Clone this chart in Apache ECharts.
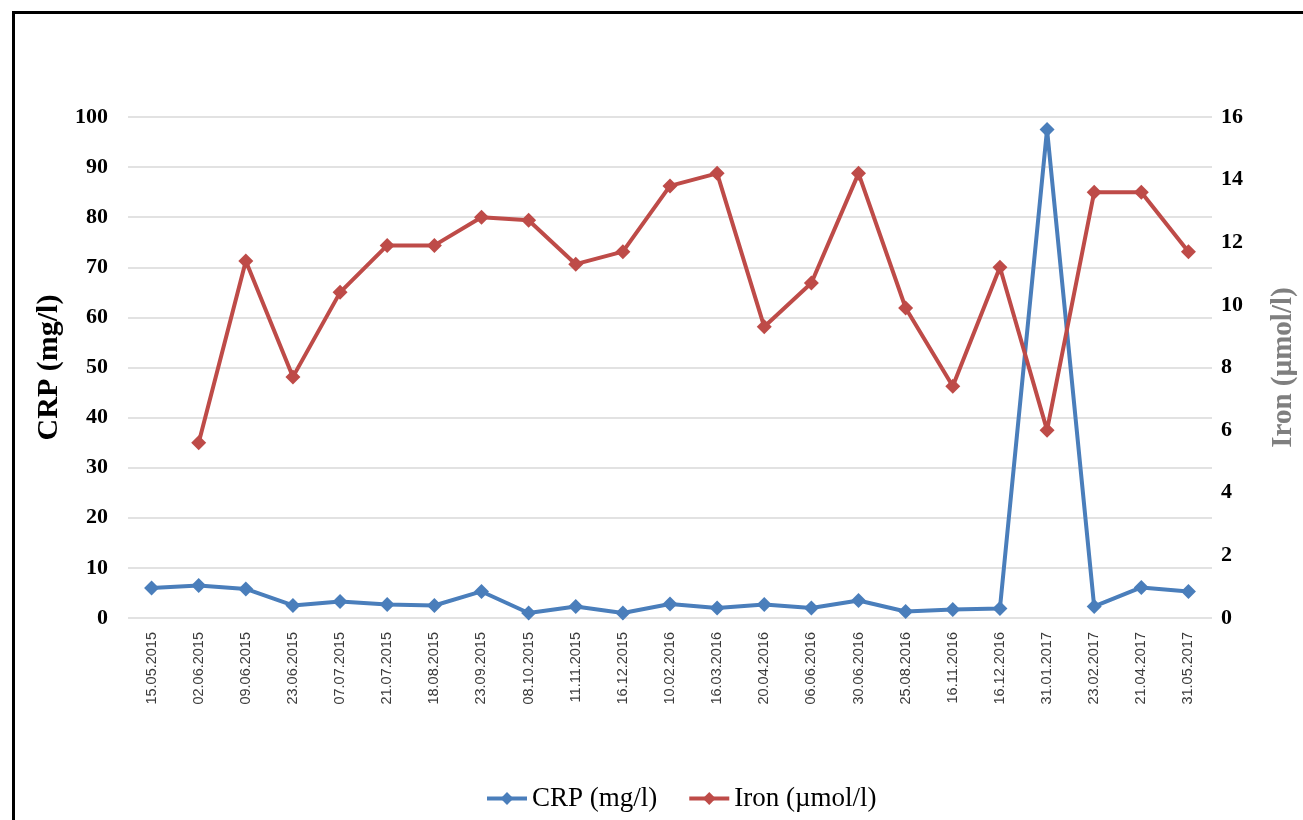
<!DOCTYPE html>
<html>
<head>
<meta charset="utf-8">
<title>CRP and Iron</title>
<script src="https://cdn.jsdelivr.net/npm/echarts@6/dist/echarts.min.js"></script>
<style>
  html, body { margin: 0; padding: 0; background: #ffffff; }
  #chart { width: 1303px; height: 820px; }
</style>
</head>
<body>
<div id="chart"></div>
<script>
// Sampling dates
const dates = [
  '15.05.2015', '02.06.2015', '09.06.2015', '23.06.2015', '07.07.2015',
  '21.07.2015', '18.08.2015', '23.09.2015', '08.10.2015', '11.11.2015',
  '16.12.2015', '10.02.2016', '16.03.2016', '20.04.2016', '06.06.2016',
  '30.06.2016', '25.08.2016', '16.11.2016', '16.12.2016', '31.01.2017',
  '23.02.2017', '21.04.2017', '31.05.2017'
];

// CRP (mg/l), left axis
const crp = [
  6.0, 6.5, 5.8, 2.5, 3.3, 2.7, 2.5, 5.3, 1.0, 2.3,
  1.0, 2.8, 2.0, 2.7, 2.0, 3.5, 1.3, 1.7, 1.9, 97.5,
  2.3, 6.1, 5.3
];

// Iron (µmol/l), right axis; no value on the first date
const iron = [
  null, 5.6, 11.4, 7.7, 10.4, 11.9, 11.9, 12.8, 12.7, 11.3,
  11.7, 13.8, 14.2, 9.3, 10.7, 14.2, 9.9, 7.4, 11.2, 6.0,
  13.6, 13.6, 11.7
];

const crpName = 'CRP (mg/l)';
const ironName = 'Iron (\u00b5mol/l)';

const serif = '"Liberation Serif", "Times New Roman", serif';
const sans = '"Liberation Sans", Arial, sans-serif';

const chart = echarts.init(document.getElementById('chart'), null, { renderer: 'canvas' });

chart.setOption({
  backgroundColor: '#ffffff',
  animation: false,
  graphic: [{
    type: 'rect',
    left: 11, top: 10,
    shape: { width: 1400, height: 900 },
    style: { fill: 'none', stroke: '#000000', lineWidth: 3 },
    silent: true
  }],
  grid: {
    left: 128, right: 91, top: 117, bottom: 202,
    containLabel: false,
    outerBoundsMode: 'none'
  },
  legend: {
    left: 480, top: 780,
    itemWidth: 40, itemHeight: 16, itemGap: 30,
    lineStyle: { width: 4 },
    textStyle: { fontFamily: serif, fontSize: 27, color: '#000000' },
    data: [crpName, ironName]
  },
  xAxis: {
    type: 'category',
    data: dates,
    boundaryGap: true,
    axisLine: { show: false },
    axisTick: { show: false },
    axisLabel: {
      rotate: 90, margin: 14, interval: 0,
      fontFamily: sans, fontSize: 14.5, color: '#3a3a3a'
    }
  },
  yAxis: [{
    type: 'value',
    min: 0, max: 100, interval: 10,
    name: crpName,
    nameLocation: 'middle',
    nameRotate: 90,
    nameGap: 64,
    nameTextStyle: { fontFamily: serif, fontSize: 30, fontWeight: 'bold', color: '#000000' },
    axisLine: { show: false },
    axisTick: { show: false },
    axisLabel: { margin: 20, fontFamily: serif, fontSize: 22, fontWeight: 'bold', color: '#000000' },
    splitLine: { show: true, lineStyle: { color: '#d9d9d9', width: 1.5 } }
  }, {
    type: 'value',
    min: 0, max: 16, interval: 2,
    position: 'right',
    name: ironName,
    nameLocation: 'middle',
    nameRotate: 90,
    nameGap: 57,
    nameTextStyle: { fontFamily: serif, fontSize: 29, fontWeight: 'bold', color: '#7f7f7f' },
    axisLine: { show: false },
    axisTick: { show: false },
    axisLabel: { margin: 9, fontFamily: serif, fontSize: 22, fontWeight: 'bold', color: '#000000' },
    splitLine: { show: false }
  }],
  series: [{
    name: crpName,
    type: 'line',
    yAxisIndex: 0,
    data: crp,
    symbol: 'diamond',
    symbolSize: 15,
    lineStyle: { color: '#4a7ebb', width: 4 },
    itemStyle: { color: '#4a7ebb' }
  }, {
    name: ironName,
    type: 'line',
    yAxisIndex: 1,
    data: iron,
    symbol: 'diamond',
    symbolSize: 15,
    lineStyle: { color: '#be4b48', width: 4 },
    itemStyle: { color: '#be4b48' }
  }]
});
</script>
</body>
</html>
